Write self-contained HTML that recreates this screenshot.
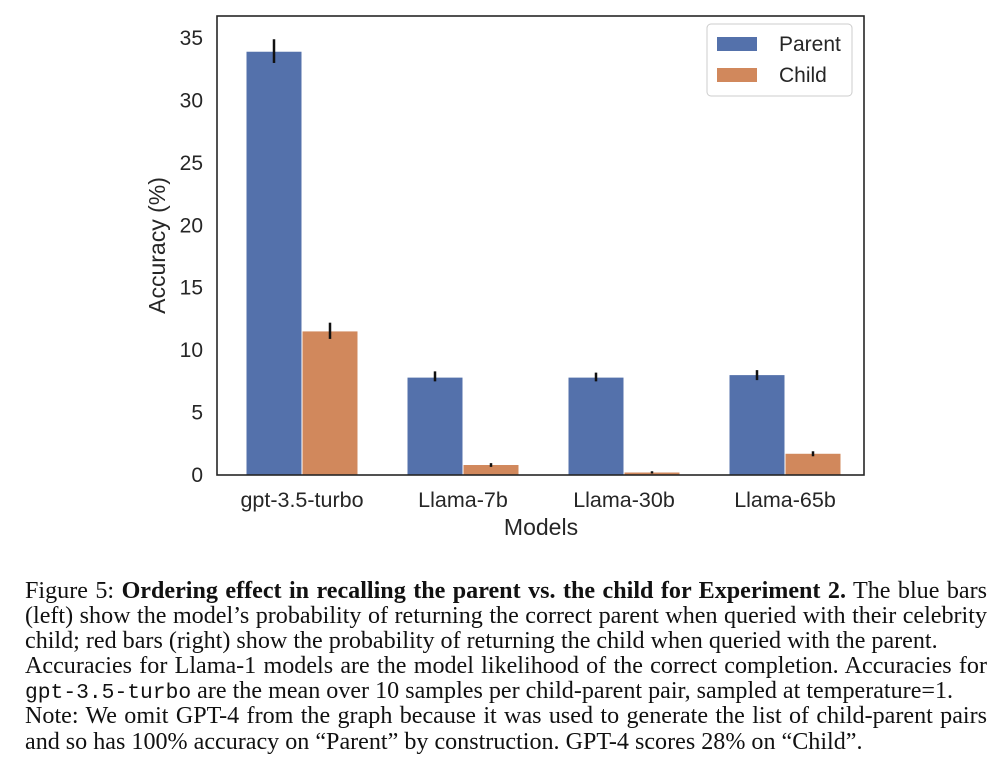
<!DOCTYPE html>
<html><head><meta charset="utf-8"><style>
body{margin:0;background:#fff;width:1000px;height:774px;overflow:hidden}
.cap{position:absolute;left:25px;top:579px;width:962px;font-family:"Liberation Serif",serif;font-size:24.1px;line-height:25.1px;color:#111}
.cap div{white-space:nowrap;height:25.1px}
.cap .j{text-align:justify;text-align-last:justify}
.cap code{font-family:"Liberation Mono",monospace;font-size:21.3px}
</style></head><body>
<svg width="1000" height="560" style="position:absolute;left:0;top:0" font-family="Liberation Sans, sans-serif">
<g id="plot"></g>
</svg>
<div class="cap">
<div class="j">Figure 5: <b>Ordering effect in recalling the parent vs. the child for Experiment 2.</b> The blue bars</div>
<div class="j">(left) show the model’s probability of returning the correct parent when queried with their celebrity</div>
<div>child; red bars (right) show the probability of returning the child when queried with the parent.</div>
<div class="j">Accuracies for Llama-1 models are the model likelihood of the correct completion. Accuracies for</div>
<div><code>gpt-3.5-turbo</code> are the mean over 10 samples per child-parent pair, sampled at temperature=1.</div>
<div class="j">Note: We omit GPT-4 from the graph because it was used to generate the list of child-parent pairs</div>
<div>and so has 100% accuracy on “Parent” by construction. GPT-4 scores 28% on “Child”.</div>
</div>
<script>
const categories=["gpt-3.5-turbo","Llama-7b","Llama-30b","Llama-65b"];
const parentVals=[33.9,7.8,7.8,8.0];
const parentLo=[33.0,7.5,7.5,7.6];
const parentHi=[34.9,8.3,8.2,8.4];
const childVals=[11.5,0.8,0.2,1.7];
const childLo=[10.9,0.65,0.12,1.5];
const childHi=[12.2,0.95,0.3,1.9];
const yTicks=[0,5,10,15,20,25,30,35];
const L=217,R=864,T=16,B=475;
const y=v=>B-v*(B-38)/35;
const xc=i=>302+161*i;
const g=document.getElementById('plot');
const NS="http://www.w3.org/2000/svg";
function mk(t,a,txt){const e=document.createElementNS(NS,t);for(const k in a)e.setAttribute(k,a[k]);if(txt!=null)e.textContent=txt;g.appendChild(e);return e;}
yTicks.forEach(v=>{
 const t=mk('text',{x:L-14,y:y(v)+7,'text-anchor':'end','font-size':21,fill:'#262626'},v);
 
 
});
const bw=55;
categories.forEach((c,i)=>{
 const pb=mk('rect',{x:xc(i)-bw-0.5,y:y(parentVals[i]),width:bw,height:B-y(parentVals[i]),fill:'#5471ab'});
 
 
 const cb=mk('rect',{x:xc(i)+0.5,y:y(childVals[i]),width:bw,height:B-y(childVals[i]),fill:'#d1885c'});
 
 
 const e1=mk('line',{x1:xc(i)-bw/2-0.5,x2:xc(i)-bw/2-0.5,y1:y(parentLo[i]),y2:y(parentHi[i]),stroke:'#111','stroke-width':2.5});
 
 
 const e2=mk('line',{x1:xc(i)+bw/2+0.5,x2:xc(i)+bw/2+0.5,y1:y(childLo[i]),y2:y(childHi[i]),stroke:'#111','stroke-width':2.5});
 
 
 const t=mk('text',{x:xc(i),y:B+32,'text-anchor':'middle','font-size':21.5,fill:'#262626'},c);
 
 
});
const fr=mk('rect',{x:L,y:T,width:R-L,height:B-T,fill:'none',stroke:'#262626','stroke-width':1.6});


const xt=mk('text',{x:541,y:B+60,'text-anchor':'middle','font-size':23,fill:'#262626'},'Models');


const yt=mk('text',{x:0,y:0,'text-anchor':'middle','font-size':23,fill:'#262626',transform:`translate(165,${(T+B)/2}) rotate(-90)`},'Accuracy (%)');


const lg=mk('rect',{x:707,y:24,width:145,height:72,fill:'#fff',stroke:'#ccc',rx:4});


[['Parent','#5471ab',44],['Child','#d1885c',75]].forEach(([n,c,yy])=>{
 const r=mk('rect',{x:717,y:yy-7,width:40,height:14,fill:c});
 
 
 const t=mk('text',{x:779,y:yy+7,'font-size':21,fill:'#262626'},n);
 
 
});
</script>
</body></html>
